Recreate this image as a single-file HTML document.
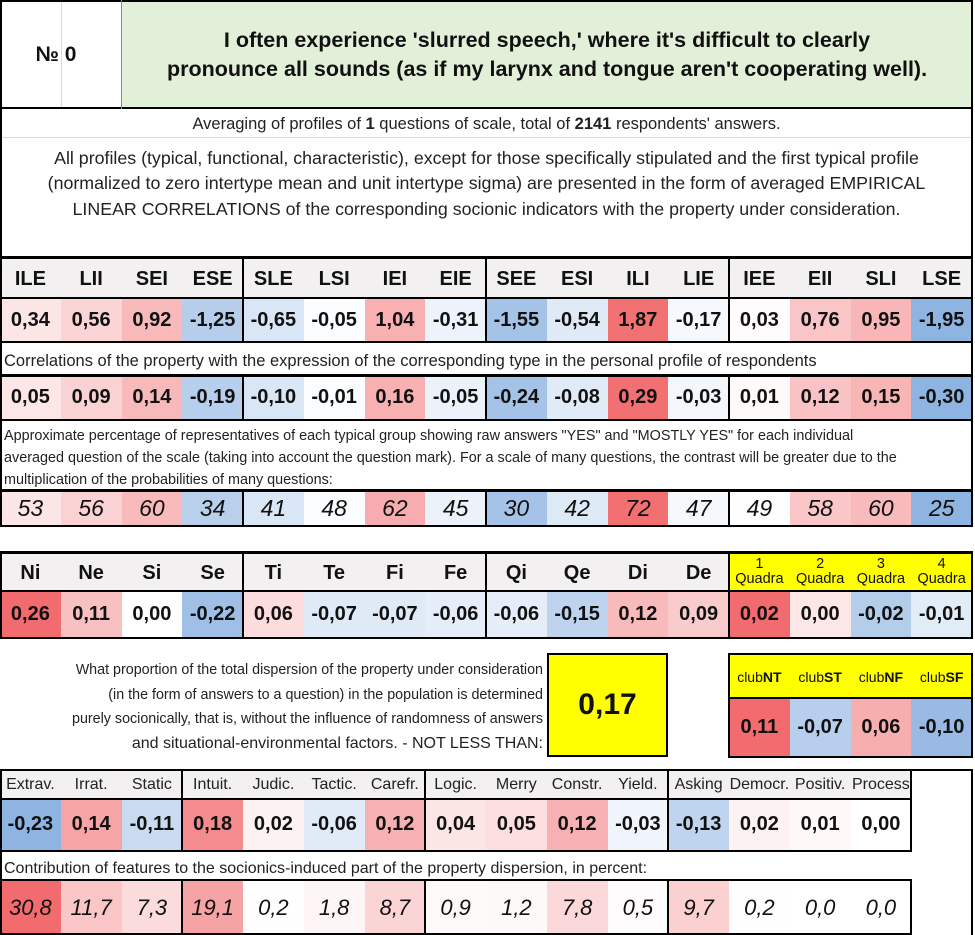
<!DOCTYPE html>
<html><head><meta charset="utf-8">
<style>
*{box-sizing:border-box;margin:0;padding:0}
body{width:975px;height:935px;background:#fff;position:relative;overflow:hidden;font-family:"Liberation Sans",sans-serif;color:#111}
.a{position:absolute}
.c{position:absolute;display:flex;align-items:center;justify-content:center;white-space:nowrap}
.hl{position:absolute;background:#000}
.gl{position:absolute;background:#d9d9d9}
</style></head>
<body>
<div class="a" style="left:0;top:0;width:973px;height:109px;border:2px solid #000;background:#fff"></div>
<div class="a" style="left:122px;top:2px;width:849px;height:105px;background:#e2efd9"></div>
<div class="gl" style="left:61px;top:2px;width:1px;height:105px"></div>
<div class="hl" style="left:121px;top:0;width:1px;height:109px;background:#888"></div>
<div class="c" style="left:0;top:0;width:112px;height:109px;font-size:21px;font-weight:bold">№ 0</div>
<div class="c" style="left:122px;top:0;width:850px;height:109px;font-size:21.5px;font-weight:bold;text-align:center;line-height:29px"><div>I often experience 'slurred speech,' where it's difficult to clearly<br>pronounce all sounds (as if my larynx and tongue aren't cooperating well).</div></div>
<div class="a" style="left:0;top:108px;width:2px;height:150px;background:#000"></div>
<div class="a" style="left:971px;top:108px;width:2px;height:150px;background:#000"></div>
<div class="c" style="left:0;top:112px;width:973px;height:24px;font-size:16.5px;color:#222">Averaging of profiles of&nbsp;<b>1</b>&nbsp;questions of scale, total of&nbsp;<b>2141</b>&nbsp;respondents' answers.</div>
<div class="gl" style="left:2px;top:137px;width:969px;height:1px"></div>
<div class="c" style="left:0;top:145px;width:973px;height:78px;font-size:17.8px;line-height:25.5px;text-align:center;color:#222"><div>All profiles (typical, functional, characteristic), except for those specifically stipulated and the first typical profile<br>(normalized to zero intertype mean and unit intertype sigma) are presented in the form of averaged EMPIRICAL<br>LINEAR CORRELATIONS of the corresponding socionic indicators with the property under consideration.</div></div>

<div id="root"></div>

<div class="a" style="left:4px;top:352px;font-size:16.5px;color:#222;white-space:nowrap">Correlations of the property with the expression of the corresponding type in the personal profile of respondents</div>
<div class="a" style="left:4px;top:425px;font-size:14.4px;line-height:22px;color:#222;white-space:nowrap">Approximate percentage of representatives of each typical group showing raw answers "YES" and "MOSTLY YES" for each individual<br>averaged question of the scale (taking into account the question mark). For a scale of many questions, the contrast will be greater due to the<br>multiplication of the probabilities of many questions:</div>
<div class="a" style="left:20px;top:658px;width:523px;text-align:right;font-size:14.3px;line-height:24.5px;color:#222;white-space:nowrap">What proportion of the total dispersion of the property under consideration<br>(in the form of answers to a question) in the population is determined<br>purely socionically, that is, without the influence of randomness of answers<br><span style="font-size:16px">and situational-environmental factors. - NOT LESS THAN:</span></div>
<div class="c" style="left:547px;top:653px;width:121px;height:104px;background:#ffff00;border:2px solid #000;font-size:30px;font-weight:bold">0,17</div>
<div class="a" style="left:4px;top:860px;font-size:16px;color:#222;white-space:nowrap">Contribution of features to the socionics-induced part of the property dispersion, in percent:</div>

<script>
const typeLabels=["ILE","LII","SEI","ESE","SLE","LSI","IEI","EIE","SEE","ESI","ILI","LIE","IEE","EII","SLI","LSE"];
const typeProfile=[0.34,0.56,0.92,-1.25,-0.65,-0.05,1.04,-0.31,-1.55,-0.54,1.87,-0.17,0.03,0.76,0.95,-1.95];
const typeCorr=[0.05,0.09,0.14,-0.19,-0.10,-0.01,0.16,-0.05,-0.24,-0.08,0.29,-0.03,0.01,0.12,0.15,-0.30];
const typePercent=[53,56,60,34,41,48,62,45,30,42,72,47,49,58,60,25];
const aspectLabels=["Ni","Ne","Si","Se","Ti","Te","Fi","Fe","Qi","Qe","Di","De"];
const aspectValues=[0.26,0.11,0.00,-0.22,0.06,-0.07,-0.07,-0.06,-0.06,-0.15,0.12,0.09];
const quadraLabels=["1","2","3","4"];
const quadraValues=[0.02,0.00,-0.02,-0.01];
const clubLabels=["NT","ST","NF","SF"];
const clubValues=[0.11,-0.07,0.06,-0.10];
const featureLabels=["Extrav.","Irrat.","Static","Intuit.","Judic.","Tactic.","Carefr.","Logic.","Merry","Constr.","Yield.","Asking","Democr.","Positiv.","Process"];
const featureValues=[-0.23,0.14,-0.11,0.18,0.02,-0.06,0.12,0.04,0.05,0.12,-0.03,-0.13,0.02,0.01,0.00];
const contribValues=[30.8,11.7,7.3,19.1,0.2,1.8,8.7,0.9,1.2,7.8,0.5,9.7,0.2,0.0,0.0];

const root=document.getElementById('root');
const CW=60.75;
function fmt(v,d){return v.toFixed(d).replace('.',',');}
function color(v,arr,center){
  const c=center===undefined?arr.reduce((a,b)=>a+b,0)/arr.length:center;
  const m=Math.max(...arr.map(x=>Math.abs(x-c)))||1;
  let t=(v-c)/m; t=Math.max(-1,Math.min(1,t));
  let r,g,b;
  if(t>=0){r=255-(255-242)*t;g=255-(255-107)*t;b=255-(255-110)*t;}
  else{t=-t;r=255-(255-142)*t;g=255-(255-180)*t;b=255-(255-226)*t;}
  return `rgb(${r|0},${g|0},${b|0})`;
}
function box(x,y,w,h,css){const d=document.createElement('div');d.className='a';d.style.cssText=`left:${x}px;top:${y}px;width:${w}px;height:${h}px;`+(css||'');root.appendChild(d);return d;}
function cell(x,y,w,h,html,css){const d=document.createElement('div');d.className='c';d.style.cssText=`left:${x}px;top:${y}px;width:${w}px;height:${h}px;`+(css||'');d.innerHTML=html;root.appendChild(d);return d;}

box(0,257,973,85,'background:#fff');
box(0,257,973,41,'background:#f2f0f0');
typeLabels.forEach((l,i)=>{
  const h=cell(i*CW,259,CW,41,l,'font-size:20px;font-weight:bold');
  
  
  const v=cell(i*CW,299,CW,42,fmt(typeProfile[i],2),'font-size:20px;font-weight:bold;background:'+color(typeProfile[i],typeProfile,0));
  
  
  const v2=cell(i*CW,376,CW,43,fmt(typeCorr[i],2),'font-size:20px;font-weight:bold;background:'+color(typeCorr[i],typeCorr,0));
  
  
  const v3=cell(i*CW,491,CW,34,String(typePercent[i]),'font-size:23px;font-style:italic;background:'+color(typePercent[i],typePercent));
  
  
});
function frame(y,h,xs,right){
  box(0,y-1,right,3,'background:#000');
  box(0,y+h-1,right,2,'background:#000');
  box(0,y,2,h,'background:#000');
  box(right-2,y,2,h,'background:#000');
  xs.forEach(x=>box(x-1,y,2,h,'background:#000'));
}
frame(257,85,[243,486,729],973);
box(0,297,973,2,'background:#000');
frame(375,45,[243,486,729],973);
frame(490,36,[243,486,729],973);
box(0,342,2,34,'background:#000');box(971,342,2,34,'background:#000');
box(0,420,2,70,'background:#000');box(971,420,2,70,'background:#000');

box(0,552,729,39,'background:#f2f0f0');
aspectLabels.forEach((l,i)=>{
  const h=cell(i*CW,554,CW,39,l,'font-size:20px;font-weight:bold');
  
  
  const v=cell(i*CW,591,CW,46,fmt(aspectValues[i],2),'font-size:20px;font-weight:bold;background:'+color(aspectValues[i],aspectValues,0));
  
  
});
quadraLabels.forEach((l,i)=>{
  const x=(12+i)*CW;
  const h=cell(x,552,CW,39,'<div style="text-align:center;line-height:15px">'+l+'<br>Quadra</div>','font-size:14.5px;background:#ffff00');
  
  
  const v=cell(x,591,CW,46,fmt(quadraValues[i],2),'font-size:20px;font-weight:bold;background:'+color(quadraValues[i],quadraValues,-0.004));
  
  
});
frame(552,86,[243,486,729],973);
box(0,590,973,2,'background:#000');

clubLabels.forEach((l,i)=>{
  const x=(12+i)*CW;
  const h=cell(x,655,CW,43,'club<b>'+l+'</b>','font-size:14px;background:#ffff00');
  
  
  const v=cell(x,698,CW,58,fmt(clubValues[i],2),'font-size:20px;font-weight:bold;background:'+color(clubValues[i],clubValues,0));
  
  
});
box(729,653,244,2,'background:#000');box(729,756,244,2,'background:#000');
box(728,653,2,105,'background:#000');box(971,653,2,105,'background:#000');
box(729,697,244,2,'background:#000');

box(0,770,912,28,'background:#f2f0f0');
featureLabels.forEach((l,i)=>{
  const h=cell(i*CW,771,CW,28,l,'font-size:16px;color:#222');
  
  
  const v=cell(i*CW,799,CW,51,fmt(featureValues[i],2),'font-size:20px;font-weight:bold;background:'+color(featureValues[i],featureValues,0));
  
  
  const c=cell(i*CW,881,CW,54,fmt(contribValues[i],1),'font-size:22px;font-style:italic;background:'+color(contribValues[i],contribValues,0));
  
  
});
box(0,769,973,2,'background:#000');
box(971,769,2,166,'background:#000');
box(0,770,2,165,'background:#000');
box(0,798,912,2,'background:#000');
box(0,850,912,2,'background:#000');
box(0,879,912,2,'background:#000');
box(0,933,912,2,'background:#000');
[182,425,668].forEach(x=>{box(x-1,770,2,82,'background:#000');box(x-1,880,2,55,'background:#000');});
box(910,770,2,82,'background:#000');box(910,880,2,55,'background:#000');
</script>
</body></html>
